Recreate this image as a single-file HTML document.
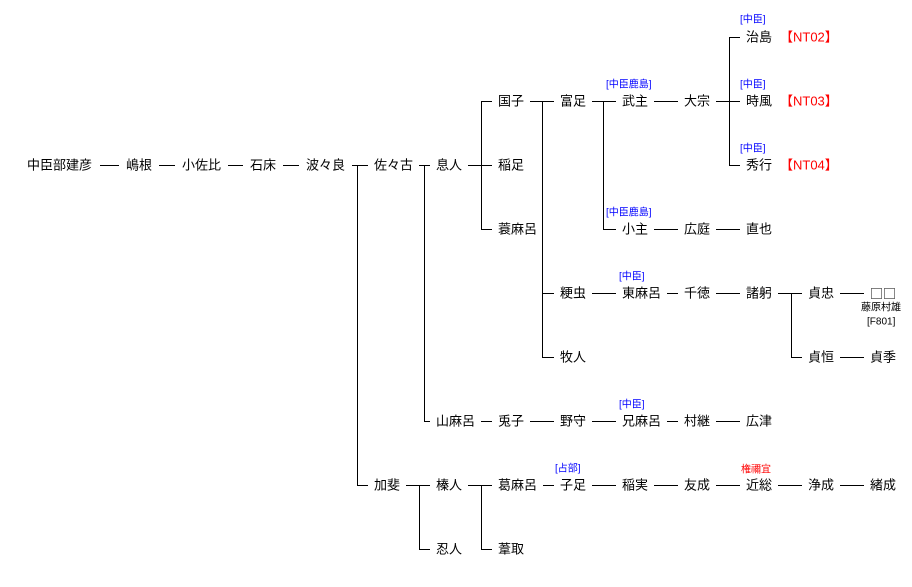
<!DOCTYPE html>
<html><head><meta charset="utf-8"><style>
html,body{margin:0;padding:0;background:#fff;}
svg{display:block}
text{font-family:"Liberation Sans","Noto Sans CJK JP",sans-serif;}
.n{font-size:13px;fill:#000;}
.bx{font-size:13px;fill:#000;font-family:"Noto Sans CJK JP",sans-serif;}
.b{font-size:10px;fill:#0000ff;}
.r{font-size:10px;fill:#ff0000;}
.rn{font-size:13px;fill:#ff0000;}
.s{font-size:10px;fill:#000;}
line{stroke:#000;stroke-width:1;shape-rendering:crispEdges}
</style></head><body>
<svg width="912" height="587" xmlns="http://www.w3.org/2000/svg">
<g dominant-baseline="central">
<text x="27" y="165" class="n">中臣部建彦</text>
<text x="126" y="165" class="n">嶋根</text>
<text x="182" y="165" class="n">小佐比</text>
<text x="250" y="165" class="n">石床</text>
<text x="306" y="165" class="n">波々良</text>
<text x="374" y="165" class="n">佐々古</text>
<text x="436" y="165" class="n">息人</text>
<text x="498" y="165" class="n">稲足</text>
<text x="746" y="165" class="n">秀行</text>
<text x="498" y="101" class="n">国子</text>
<text x="560" y="101" class="n">富足</text>
<text x="622" y="101" class="n">武主</text>
<text x="684" y="101" class="n">大宗</text>
<text x="746" y="101" class="n">時風</text>
<text x="746" y="37" class="n">治島</text>
<text x="498" y="229" class="n">蓑麻呂</text>
<text x="622" y="229" class="n">小主</text>
<text x="684" y="229" class="n">広庭</text>
<text x="746" y="229" class="n">直也</text>
<text x="560" y="293" class="n">粳虫</text>
<text x="622" y="293" class="n">東麻呂</text>
<text x="684" y="293" class="n">千徳</text>
<text x="746" y="293" class="n">諸躬</text>
<text x="808" y="293" class="n">貞忠</text>
<text x="870" y="293" class="bx">□□</text>
<text x="560" y="357" class="n">牧人</text>
<text x="808" y="357" class="n">貞恒</text>
<text x="870" y="357" class="n">貞季</text>
<text x="436" y="421" class="n">山麻呂</text>
<text x="498" y="421" class="n">兎子</text>
<text x="560" y="421" class="n">野守</text>
<text x="622" y="421" class="n">兄麻呂</text>
<text x="684" y="421" class="n">村継</text>
<text x="746" y="421" class="n">広津</text>
<text x="374" y="485" class="n">加斐</text>
<text x="436" y="485" class="n">榛人</text>
<text x="498" y="485" class="n">葛麻呂</text>
<text x="560" y="485" class="n">子足</text>
<text x="622" y="485" class="n">稲実</text>
<text x="684" y="485" class="n">友成</text>
<text x="746" y="485" class="n">近総</text>
<text x="808" y="485" class="n">浄成</text>
<text x="870" y="485" class="n">緒成</text>
<text x="436" y="549" class="n">忍人</text>
<text x="498" y="549" class="n">葦取</text>
<text x="780" y="37" class="rn">【NT02】</text>
<text x="780" y="101" class="rn">【NT03】</text>
<text x="780" y="165" class="rn">【NT04】</text>
<text x="740" y="20" class="b">[中臣]</text>
<text x="740" y="85" class="b">[中臣]</text>
<text x="740" y="149" class="b">[中臣]</text>
<text x="606" y="85" class="b">[中臣鹿島]</text>
<text x="606" y="213" class="b">[中臣鹿島]</text>
<text x="619" y="277" class="b">[中臣]</text>
<text x="619" y="405" class="b">[中臣]</text>
<text x="555" y="469" class="b">[占部]</text>
<text x="741" y="470" class="r">権禰宜</text>
<text x="861" y="308" class="s">藤原村雄</text>
<text x="867" y="322" class="s">[F801]</text>
</g>
<g>
<line x1="100" y1="165.5" x2="119" y2="165.5"/>
<line x1="159" y1="165.5" x2="175" y2="165.5"/>
<line x1="228" y1="165.5" x2="243" y2="165.5"/>
<line x1="283" y1="165.5" x2="299" y2="165.5"/>
<line x1="352" y1="165.5" x2="368" y2="165.5"/>
<line x1="419" y1="165.5" x2="430" y2="165.5"/>
<line x1="468" y1="165.5" x2="492" y2="165.5"/>
<line x1="729" y1="165.5" x2="740" y2="165.5"/>
<line x1="530" y1="101.5" x2="554" y2="101.5"/>
<line x1="592" y1="101.5" x2="616" y2="101.5"/>
<line x1="654" y1="101.5" x2="678" y2="101.5"/>
<line x1="716" y1="101.5" x2="740" y2="101.5"/>
<line x1="729" y1="37.5" x2="740" y2="37.5"/>
<line x1="481" y1="101.5" x2="492" y2="101.5"/>
<line x1="481" y1="229.5" x2="492" y2="229.5"/>
<line x1="603" y1="229.5" x2="616" y2="229.5"/>
<line x1="654" y1="229.5" x2="678" y2="229.5"/>
<line x1="716" y1="229.5" x2="740" y2="229.5"/>
<line x1="542" y1="293.5" x2="554" y2="293.5"/>
<line x1="592" y1="293.5" x2="616" y2="293.5"/>
<line x1="667" y1="293.5" x2="678" y2="293.5"/>
<line x1="716" y1="293.5" x2="740" y2="293.5"/>
<line x1="778" y1="293.5" x2="802" y2="293.5"/>
<line x1="840" y1="293.5" x2="864" y2="293.5"/>
<line x1="542" y1="357.5" x2="554" y2="357.5"/>
<line x1="791" y1="357.5" x2="802" y2="357.5"/>
<line x1="840" y1="357.5" x2="864" y2="357.5"/>
<line x1="424" y1="421.5" x2="430" y2="421.5"/>
<line x1="481" y1="421.5" x2="492" y2="421.5"/>
<line x1="530" y1="421.5" x2="554" y2="421.5"/>
<line x1="592" y1="421.5" x2="616" y2="421.5"/>
<line x1="667" y1="421.5" x2="678" y2="421.5"/>
<line x1="716" y1="421.5" x2="740" y2="421.5"/>
<line x1="357" y1="485.5" x2="368" y2="485.5"/>
<line x1="406" y1="485.5" x2="430" y2="485.5"/>
<line x1="468" y1="485.5" x2="492" y2="485.5"/>
<line x1="543" y1="485.5" x2="554" y2="485.5"/>
<line x1="592" y1="485.5" x2="616" y2="485.5"/>
<line x1="654" y1="485.5" x2="678" y2="485.5"/>
<line x1="716" y1="485.5" x2="740" y2="485.5"/>
<line x1="778" y1="485.5" x2="802" y2="485.5"/>
<line x1="840" y1="485.5" x2="864" y2="485.5"/>
<line x1="419" y1="549.5" x2="430" y2="549.5"/>
<line x1="481" y1="549.5" x2="492" y2="549.5"/>
<line x1="357.5" y1="165" x2="357.5" y2="486"/>
<line x1="424.5" y1="165" x2="424.5" y2="422"/>
<line x1="481.5" y1="101" x2="481.5" y2="230"/>
<line x1="542.5" y1="101" x2="542.5" y2="358"/>
<line x1="603.5" y1="101" x2="603.5" y2="230"/>
<line x1="729.5" y1="37" x2="729.5" y2="166"/>
<line x1="791.5" y1="293" x2="791.5" y2="358"/>
<line x1="419.5" y1="485" x2="419.5" y2="550"/>
<line x1="481.5" y1="485" x2="481.5" y2="550"/>
</g>
</svg>
</body></html>
